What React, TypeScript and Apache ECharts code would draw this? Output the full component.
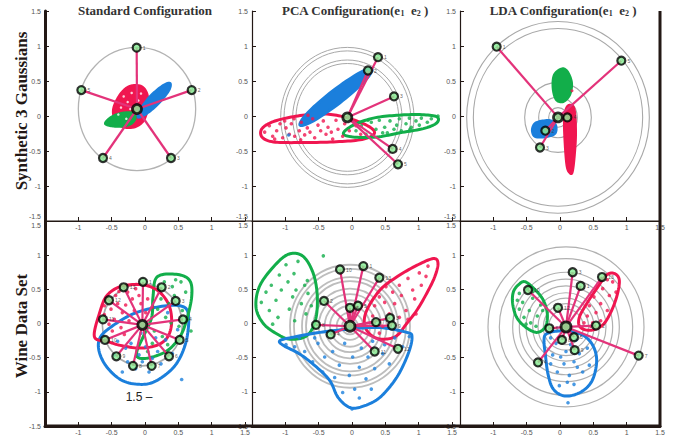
import React, { useEffect, useRef } from "react";
import * as echarts from "echarts";

type Pt = [number, number];
type Vtx = [number, number, string];

// ---------------- titles ----------------
const COL_TITLES = ["Standard Configuration", "PCA Configuration", "LDA Configuration"];
const ROW_TITLES = ["Synthetic 3 Gaussians", "Wine Data Set"];
const STRAY_TEXT = "1.5 \u2013";

// ---------------- Panel 1: Synthetic / Standard ----------------
const s1Center: Pt = [-0.12, 0.1];
const s1Rings = [0.88];
const s1Vertices: Vtx[] = [
  [-0.125, 0.976, "1"], [0.7, 0.37, "2"], [0.39, -0.6, "3"], [-0.63, -0.6, "4"], [-0.955, 0.37, "5"],
];
const s1Red: Pt[] = [
  [-0.18, 0.44], [-0.04, 0.42], [0.04, 0.3], [0.04, 0.1], [-0.02, -0.07], [-0.15, -0.16],
  [-0.33, -0.16], [-0.45, -0.06], [-0.48, 0.09], [-0.41, 0.26], [-0.3, 0.39],
];
const s1RedHoles: Pt[] = [
  [-0.32, 0.28], [-0.2, 0.33], [-0.36, 0.12], [-0.22, 0.1], [-0.1, 0.22], [-0.4, 0.02],
  [-0.12, 0.05], [-0.28, -0.04], [-0.06, 0.32], [-0.26, 0.2],
];
const s1Blue: Pt[] = [
  [0.38, 0.47], [0.27, 0.44], [0.08, 0.29], [-0.07, 0.1], [-0.11, -0.02], [0.01, 0.02],
  [0.2, 0.17], [0.36, 0.36],
];
const s1Green: Pt[] = [
  [-0.6, -0.11], [-0.52, -0.02], [-0.37, 0.04], [-0.2, 0.05], [-0.14, -0.02], [-0.2, -0.11],
  [-0.33, -0.15], [-0.48, -0.15],
];

// ---------------- Panel 2: Synthetic / PCA ----------------
const s2Center: Pt = [-0.07, -0.02];
const s2Rings = [1.0, 0.95, 0.82, 0.77];
const s2Vertices: Vtx[] = [
  [0.39, 0.84, "1"], [0.24, 0.65, "2"], [0.63, 0.28, "3"], [0.61, -0.47, "4"], [0.69, -0.69, "5"],
];
const s2Red: Pt[] = [
  [-1.35, -0.18], [-1.18, -0.08], [-0.88, -0.01], [-0.53, 0.03], [-0.23, 0.01], [0.07, -0.07],
  [0.3, -0.18], [0.32, -0.27], [0.12, -0.34], [-0.28, -0.37], [-0.78, -0.38], [-1.18, -0.37],
  [-1.35, -0.3],
];
const s2RedPts: Pt[] = [
  [-1.31, -0.23], [-1.24, -0.14], [-1.19, -0.29], [-1.13, -0.21], [-1.08, -0.11], [-1.04, -0.31],
  [-0.99, -0.17], [-0.94, -0.26], [-0.91, -0.11], [-0.86, -0.29], [-0.79, -0.21], [-0.76, -0.09],
  [-0.71, -0.27], [-0.67, -0.17], [-0.63, -0.23], [-0.59, -0.04], [-0.56, -0.31], [-0.51, -0.13],
  [-0.47, -0.21], [-0.43, -0.07], [-0.39, -0.26], [-0.36, -0.16], [-0.31, -0.23], [-0.24, -0.06],
  [-0.21, -0.19], [-0.14, -0.29], [-0.11, -0.11], [-0.04, -0.21], [0.06, -0.14], [0.13, -0.26],
  [-0.87, -0.04], [-0.66, 0.01], [-1.01, -0.07], [-0.29, -0.33], [-0.77, -0.34], [-1.16, -0.33],
];
const s2BlueStray: Pt[] = [[-0.95, -0.27]];
const s2Blue: Pt[] = [
  [0.3, 0.67], [0.1, 0.61], [-0.3, 0.35], [-0.66, 0.05], [-0.78, -0.13], [-0.58, -0.07],
  [-0.18, 0.19], [0.18, 0.49],
];
const s2Green: Pt[] = [
  [-0.13, -0.25], [0.02, -0.13], [0.32, -0.03], [0.67, 0.01], [1.02, 0.02], [1.27, -0.01],
  [1.27, -0.1], [1.07, -0.18], [0.72, -0.24], [0.37, -0.3], [0.02, -0.3],
];
const s2GreenPts: Pt[] = [
  [0.06, -0.21], [0.14, -0.14], [0.21, -0.26], [0.29, -0.09], [0.36, -0.19], [0.41, -0.06],
  [0.49, -0.16], [0.53, -0.24], [0.57, -0.07], [0.63, -0.19], [0.71, -0.04], [0.74, -0.21],
  [0.81, -0.11], [0.86, -0.03], [0.89, -0.16], [0.96, -0.07], [1.01, -0.13], [1.04, -0.03],
  [1.13, -0.09], [1.19, -0.04], [0.24, -0.06], [0.67, -0.13], [0.87, -0.19], [0.46, -0.24], [1.29, 0.0],
];

// ---------------- Panel 3: Synthetic / LDA ----------------
const s3Center: Pt = [-0.03, -0.02];
const s3Rings = [1.37, 1.27, 0.5, 0.29, 0.14];
const s3Vertices: Vtx[] = [
  [-0.95, 0.99, "1"], [0.92, 0.79, "5"], [0.11, -0.02, "4"], [-0.22, -0.21, "2"], [-0.3, -0.45, "3"],
];
const s3Green: Pt[] = [
  [0.03, 0.68], [0.12, 0.63], [0.18, 0.47], [0.15, 0.3], [0.05, 0.2], [-0.06, 0.23],
  [-0.11, 0.4], [-0.09, 0.59],
];
const s3Red: Pt[] = [
  [0.15, 0.16], [0.22, 0.09], [0.24, -0.25], [0.22, -0.58], [0.19, -0.8], [0.15, -0.82],
  [0.1, -0.72], [0.07, -0.39], [0.06, -0.06], [0.09, 0.11],
];
const s3RedStray: Pt[] = [[0.18, 0.36]];
const s3Blue: Pt[] = [
  [-0.33, -0.08], [-0.15, -0.06], [-0.06, -0.13], [-0.07, -0.25], [-0.2, -0.3], [-0.37, -0.3],
  [-0.42, -0.22], [-0.4, -0.13],
];

// ---------------- Panel 4: Wine / Standard ----------------
const w1Center: Pt = [-0.04, -0.02];
const w1Rings = [0.6];
const w1Vertices: Vtx[] = [
  [-0.03, 0.61, "1"], [0.25, 0.53, "2"], [0.46, 0.33, "3"], [0.57, 0.06, "4"], [0.52, -0.24, "5"],
  [0.36, -0.48, "6"], [0.1, -0.62, "7"], [-0.18, -0.62, "8"], [-0.43, -0.48, "9"],
  [-0.6, -0.24, "10"], [-0.63, 0.06, "11"], [-0.54, 0.34, "12"], [-0.32, 0.53, "13"],
];
const w1Red: Pt[] = [
  [-0.76, -0.19], [-0.67, 0.19], [-0.57, 0.41], [-0.37, 0.54], [-0.07, 0.57], [0.18, 0.49],
  [0.35, 0.29], [0.4, 0.04], [0.35, -0.18], [0.2, -0.31], [-0.07, -0.36], [-0.37, -0.32],
  [-0.57, -0.26],
];
const w1RedPts: Pt[] = [
  [-0.56, 0.36], [-0.44, 0.41], [-0.41, 0.29], [-0.51, 0.21], [-0.61, 0.26], [-0.34, 0.16],
  [-0.29, 0.27], [-0.26, 0.46], [-0.19, 0.36], [-0.16, 0.19], [-0.09, 0.41], [-0.06, 0.29],
  [0.01, 0.16], [0.04, 0.36], [-0.46, 0.06], [-0.54, -0.01], [-0.36, -0.06], [-0.24, 0.04],
  [-0.61, 0.13], [-0.39, 0.47], [0.11, 0.24], [-0.14, 0.51], [-0.31, -0.16], [-0.49, -0.11],
];
const w1Green: Pt[] = [
  [0.18, 0.68], [0.47, 0.72], [0.67, 0.63], [0.7, 0.39], [0.62, 0.04], [0.52, -0.2],
  [0.33, -0.4], [0.07, -0.5], [-0.1, -0.5], [-0.12, -0.4], [-0.03, -0.2], [0.1, 0.09], [0.12, 0.39],
];
const w1GreenPts: Pt[] = [
  [0.21, 0.51], [0.29, 0.61], [0.41, 0.54], [0.24, 0.36], [0.36, 0.29], [0.44, 0.41], [0.56, 0.19],
  [0.61, 0.46], [0.19, 0.21], [0.31, 0.09], [0.39, 0.01], [0.51, -0.04], [0.14, -0.11], [0.26, -0.19],
  [0.34, -0.31], [0.11, -0.29], [0.04, -0.41], [0.64, 0.06], [0.69, -0.11], [0.54, 0.61], [0.46, 0.64],
];
const w1Blue: Pt[] = [
  [-0.67, -0.2], [-0.48, -0.03], [-0.18, 0.14], [0.18, 0.24], [0.52, 0.26], [0.65, 0.14],
  [0.62, -0.25], [0.47, -0.59], [0.22, -0.81], [-0.02, -0.89], [-0.33, -0.84], [-0.57, -0.64],
  [-0.69, -0.4],
];
const w1BluePts: Pt[] = [
  [-0.41, -0.26], [-0.29, -0.36], [-0.21, -0.29], [-0.09, -0.46], [0.01, -0.34], [0.11, -0.51],
  [0.19, -0.41], [0.31, -0.24], [-0.26, -0.56], [-0.14, -0.66], [0.06, -0.71], [0.24, -0.59],
  [0.41, -0.44], [-0.46, -0.46], [-0.34, -0.71], [0.16, -0.21], [-0.06, -0.14], [0.34, 0.16],
  [0.49, -0.09], [0.55, -0.82], [-0.04, -0.56],
];

// ---------------- Panel 5: Wine / PCA ----------------
const w2Center: Pt = [-0.03, -0.04];
const w2Rings = [0.9, 0.84, 0.72, 0.66, 0.55, 0.47, 0.38, 0.3, 0.2, 0.12];
const w2Vertices: Vtx[] = [
  [0.17, 0.84, "1"], [-0.18, 0.79, "10"], [0.41, 0.67, "13"], [-0.42, 0.33, "2"],
  [-0.03, 0.23, "6"], [0.09, 0.26, "5"], [-0.54, -0.02, "8"], [-0.32, -0.16, "4"],
  [0.36, 0.02, "7"], [0.57, 0.08, "3"], [0.6, -0.03, "9"], [0.34, -0.41, "11"], [0.69, -0.37, "12"],
];
const w2Green: Pt[] = [
  [-1.38, 0.56], [-1.13, 0.88], [-0.93, 1.02], [-0.73, 0.98], [-0.58, 0.73], [-0.52, 0.39],
  [-0.55, 0.04], [-0.68, -0.18], [-0.93, -0.23], [-1.13, -0.15], [-1.33, 0.0], [-1.44, 0.24],
];
const w2GreenPts: Pt[] = [
  [-1.36, 0.31], [-1.29, 0.46], [-1.24, 0.19], [-1.21, 0.56], [-1.14, 0.34], [-1.09, 0.71],
  [-1.06, 0.49], [-0.99, 0.86], [-0.96, 0.61], [-0.89, 0.39], [-0.87, 0.73], [-0.84, 0.49],
  [-0.81, 0.91], [-0.76, 0.29], [-0.71, 0.56], [-0.69, 0.14], [-0.66, 0.44], [-0.61, 0.26],
  [-0.94, 0.21], [-1.11, 0.09], [-0.86, 0.04], [-1.19, -0.01], [-0.43, 0.99], [-0.67, 0.63],
];
const w2Red: Pt[] = [
  [0.22, 0.19], [0.42, 0.49], [0.67, 0.68], [0.97, 0.85], [1.22, 0.95], [1.29, 0.88],
  [1.24, 0.68], [1.12, 0.44], [0.97, 0.19], [0.82, 0.0], [0.67, -0.18], [0.47, -0.23],
  [0.3, -0.18], [0.19, -0.03],
];
const w2RedPts: Pt[] = [
  [0.31, 0.11], [0.34, 0.26], [0.41, 0.39], [0.49, 0.31], [0.56, 0.14], [0.61, 0.46], [0.64, 0.29],
  [0.71, 0.56], [0.74, 0.41], [0.81, 0.19], [0.84, 0.66], [0.91, 0.49], [0.94, 0.36], [1.01, 0.74],
  [1.04, 0.56], [1.11, 0.69], [0.46, -0.04], [0.59, 0.01], [0.71, 0.09], [0.84, 0.06], [0.51, 0.54],
  [0.96, 0.14], [1.14, 0.84], [0.41, -0.14],
];
const w2Blue: Pt[] = [
  [-1.08, -0.25], [-0.88, -0.2], [-0.48, -0.13], [-0.03, -0.08], [0.42, -0.06], [0.82, -0.13],
  [0.9, -0.2], [0.84, -0.45], [0.67, -0.79], [0.42, -1.08], [0.17, -1.21], [-0.03, -1.23],
  [-0.21, -1.08], [-0.33, -0.84], [-0.53, -0.64], [-0.78, -0.45], [-1.03, -0.32],
];
const w2BluePts: Pt[] = [
  [-0.99, -0.31], [-0.86, -0.34], [-0.71, -0.41], [-0.59, -0.56], [-0.51, -0.29], [-0.44, -0.71],
  [-0.41, -0.49], [-0.29, -0.41], [-0.26, -0.79], [-0.19, -0.61], [-0.11, -0.29], [-0.04, -0.76],
  [0.01, -0.49], [0.04, -0.96], [0.11, -0.64], [0.14, -0.36], [0.21, -0.81], [0.24, -0.49],
  [0.31, -0.26], [0.34, -0.66], [0.46, -0.44], [0.49, -0.31], [0.56, -0.59], [0.64, -0.21],
  [0.76, -0.34], [-0.14, -1.01], [0.11, -1.09], [0.29, -0.96], [-0.56, -0.21], [-0.31, -0.14],
  [0.0, -1.25], [0.86, -0.19], [-0.79, -0.21],
];

// ---------------- Panel 6: Wine / LDA ----------------
const w3Center: Pt = [0.09, -0.05];
const w3Rings = [1.17, 1.0, 0.8, 0.7, 0.6, 0.5, 0.42, 0.34, 0.26];
const w3Vertices: Vtx[] = [
  [0.19, 0.75, "3"], [0.31, 0.55, "1"], [0.63, 0.68, "13"], [-0.48, 0.49, "10"],
  [-0.03, 0.23, "12"], [-0.16, -0.07, "6"], [0.54, -0.03, "2"], [0.03, -0.24, "8"],
  [0.21, -0.2, "5"], [0.22, -0.39, "9"], [-0.33, -0.57, "4"], [1.18, -0.47, "7"],
];
const w3Green: Pt[] = [
  [-0.62, 0.57], [-0.52, 0.61], [-0.37, 0.49], [-0.25, 0.34], [-0.19, 0.14], [-0.22, -0.05],
  [-0.35, -0.13], [-0.52, -0.05], [-0.65, 0.09], [-0.71, 0.29], [-0.7, 0.46],
];
const w3GreenPts: Pt[] = [
  [-0.61, 0.44], [-0.56, 0.31], [-0.49, 0.51], [-0.46, 0.19], [-0.41, 0.37], [-0.34, 0.11],
  [-0.29, 0.27], [-0.54, 0.09], [-0.61, 0.21], [-0.44, 0.01], [-0.36, -0.04], [-0.26, 0.19],
  [-0.64, 0.34], [-0.51, -0.01], [-0.41, 0.47],
];
const w3Red: Pt[] = [
  [0.7, 0.71], [0.82, 0.73], [0.89, 0.63], [0.85, 0.39], [0.75, 0.14], [0.63, -0.03],
  [0.45, -0.1], [0.3, -0.05], [0.29, 0.09], [0.4, 0.29], [0.55, 0.51],
];
const w3RedPts: Pt[] = [
  [0.41, 0.11], [0.44, 0.26], [0.51, 0.39], [0.54, 0.16], [0.61, 0.29], [0.64, 0.51], [0.71, 0.19],
  [0.74, 0.41], [0.79, 0.61], [0.49, 0.01], [0.61, 0.04], [0.36, 0.01], [0.71, 0.64], [0.56, 0.54],
  [0.84, 0.46], [0.46, -0.04],
];
const w3Blue: Pt[] = [
  [-0.2, -0.15], [0.0, -0.11], [0.3, -0.15], [0.48, -0.3], [0.55, -0.54], [0.48, -0.84],
  [0.3, -1.01], [0.07, -1.06], [-0.1, -0.96], [-0.18, -0.74], [-0.22, -0.45], [-0.24, -0.25],
];
const w3BluePts: Pt[] = [
  [-0.14, -0.21], [-0.06, -0.29], [0.04, -0.21], [0.16, -0.31], [0.24, -0.24], [-0.11, -0.46],
  [0.01, -0.49], [0.09, -0.41], [0.21, -0.56], [0.29, -0.44], [0.41, -0.36], [-0.04, -0.71],
  [0.06, -0.59], [0.14, -0.76], [0.26, -0.64], [0.34, -0.71], [0.11, -0.86], [-0.01, -0.91],
  [0.21, -0.89], [0.44, -0.61], [-0.14, -0.59], [0.12, -1.16],
];

// ---------------- styling ----------------
const RED = "#f01650";
const BLUE = "#1b7fdc";
const GREEN = "#12ae4a";
const SPOKE = "#e3337a";
const MARKER = "#86ee92";
const AXIS = "#231815";
const LABEL = "#555555";

interface Cluster { contour: Pt[]; color: string; fill?: boolean; width?: number; points?: Pt[]; }
interface Panel {
  center: Pt; rings: number[]; ringColor: string; ringWidth: number; vertices: Vtx[];
  clusters: Cluster[]; extras?: { pts: Pt[]; color: string; size: number }[]; centerSize: number;
}

const PANELS: Panel[] = [
  {
    center: s1Center, rings: s1Rings, ringColor: "#b3b3b3", ringWidth: 1.3, vertices: s1Vertices, centerSize: 9,
    clusters: [
      { contour: s1Red, color: RED, fill: true, width: 2 },
      { contour: s1Blue, color: BLUE, fill: true, width: 2 },
      { contour: s1Green, color: GREEN, fill: true, width: 2 },
    ],
    extras: [{ pts: s1RedHoles, color: "#ffffff", size: 2.5 }],
  },
  {
    center: s2Center, rings: s2Rings, ringColor: "#a8a8a8", ringWidth: 1, vertices: s2Vertices, centerSize: 9,
    clusters: [
      { contour: s2Red, color: RED, width: 3, points: s2RedPts },
      { contour: s2Blue, color: BLUE, fill: true, width: 3 },
      { contour: s2Green, color: GREEN, width: 3, points: s2GreenPts },
    ],
    extras: [{ pts: s2BlueStray, color: BLUE, size: 3.5 }],
  },
  {
    center: s3Center, rings: s3Rings, ringColor: "#a8a8a8", ringWidth: 1.1, vertices: s3Vertices, centerSize: 9,
    clusters: [
      { contour: s3Green, color: GREEN, fill: true, width: 2 },
      { contour: s3Red, color: RED, fill: true, width: 2 },
      { contour: s3Blue, color: BLUE, fill: true, width: 2 },
    ],
    extras: [{ pts: s3RedStray, color: RED, size: 3 }],
  },
  {
    center: w1Center, rings: w1Rings, ringColor: "#aaaaaa", ringWidth: 1.6, vertices: w1Vertices, centerSize: 9,
    clusters: [
      { contour: w1Blue, color: BLUE, width: 3, points: w1BluePts },
      { contour: w1Green, color: GREEN, width: 3, points: w1GreenPts },
      { contour: w1Red, color: RED, width: 3, points: w1RedPts },
    ],
  },
  {
    center: w2Center, rings: w2Rings, ringColor: "#bdbdbd", ringWidth: 1.8, vertices: w2Vertices, centerSize: 10,
    clusters: [
      { contour: w2Green, color: GREEN, width: 3, points: w2GreenPts },
      { contour: w2Red, color: RED, width: 3, points: w2RedPts },
      { contour: w2Blue, color: BLUE, width: 3, points: w2BluePts },
    ],
  },
  {
    center: w3Center, rings: w3Rings, ringColor: "#b0b0b0", ringWidth: 1.2, vertices: w3Vertices, centerSize: 10,
    clusters: [
      { contour: w3Green, color: GREEN, width: 3, points: w3GreenPts },
      { contour: w3Red, color: RED, width: 3, points: w3RedPts },
      { contour: w3Blue, color: BLUE, width: 3, points: w3BluePts },
    ],
  },
];

const GRIDS = [
  { left: 45, top: 11, width: 200, height: 210 },
  { left: 252, top: 11, width: 200, height: 210 },
  { left: 460, top: 11, width: 200, height: 210 },
  { left: 45, top: 221, width: 200, height: 205 },
  { left: 252, top: 221, width: 200, height: 205 },
  { left: 460, top: 221, width: 200, height: 205 },
];

// closed Catmull-Rom curve through pixel points (rendering only)
function closedCurve(pts: number[][], steps = 10): number[][] {
  const n = pts.length;
  const out: number[][] = [];
  for (let i = 0; i < n; i++) {
    const p0 = pts[(i - 1 + n) % n], p1 = pts[i], p2 = pts[(i + 1) % n], p3 = pts[(i + 2) % n];
    for (let s = 0; s < steps; s++) {
      const t = s / steps, t2 = t * t, t3 = t2 * t;
      out.push([0, 1].map((k) =>
        0.5 * (2 * p1[k] + (-p0[k] + p2[k]) * t + (2 * p0[k] - 5 * p1[k] + 4 * p2[k] - p3[k]) * t2 +
          (-p0[k] + 3 * p1[k] - 3 * p2[k] + p3[k]) * t3)));
    }
  }
  return out;
}

function buildOption() {
  const xAxis: any[] = [];
  const yAxis: any[] = [];
  const series: any[] = [];
  GRIDS.forEach((_g, i) => {
    const bottomRow = i >= 3;
    const col = i % 3;
    xAxis.push({
      type: "value", gridIndex: i, min: -1.5, max: 1.5, interval: 0.5,
      axisLine: { show: true, onZero: false, lineStyle: { color: AXIS, width: bottomRow ? 3 : 1.2 } },
      axisTick: { show: true, inside: true, length: 4, lineStyle: { color: AXIS, width: 1 } },
      axisLabel: {
        show: true, fontSize: 7, color: LABEL, margin: 3, fontFamily: "Liberation Sans",
        formatter: (v: number) => (v === -1.5 || (!bottomRow && col < 2 && v === 1.5) ? "" : String(v)),
      },
      splitLine: { show: false },
    });
    yAxis.push({
      type: "value", gridIndex: i, min: -1.5, max: 1.5, interval: 0.5,
      axisLine: { show: true, onZero: false, lineStyle: { color: AXIS, width: col === 0 ? 3 : 1.2 } },
      axisTick: { show: true, inside: true, length: 4, lineStyle: { color: AXIS, width: 1 } },
      axisLabel: {
        show: true, fontSize: 7, color: LABEL, margin: 4, fontFamily: "Liberation Sans",
        formatter: (v: number) => {
          if (!bottomRow && v === -1.5) return "{lo|-1.5}";
          if (bottomRow && v === 1.5) return "{hi|1.5}";
          return String(v);
        },
        rich: {
          lo: { fontSize: 7, color: LABEL, fontFamily: "Liberation Sans", padding: [0, 0, 10, 0] },
          hi: { fontSize: 7, color: LABEL, fontFamily: "Liberation Sans", padding: [8, 0, 0, 0] },
        },
      },
      splitLine: { show: false },
    });
  });

  PANELS.forEach((p, i) => {
    const ax = { xAxisIndex: i, yAxisIndex: i };
    // rings
    series.push({
      type: "custom", ...ax, z: 1, silent: true,
      data: p.rings.map((r) => [p.center[0], p.center[1], r]),
      renderItem: (_params: any, api: any) => {
        const c = api.coord([api.value(0), api.value(1)]);
        const s = api.size([api.value(2), api.value(2)]);
        return {
          type: "ellipse",
          shape: { cx: c[0], cy: c[1], rx: s[0], ry: s[1] },
          style: { fill: "none", stroke: p.ringColor, lineWidth: p.ringWidth },
        };
      },
    });
    // clusters
    p.clusters.forEach((cl) => {
      series.push({
        type: "custom", ...ax, z: 2, silent: true,
        data: cl.contour,
        renderItem: (params: any, api: any) => {
          if (params.dataIndex !== 0) return { type: "group", children: [] };
          const pts = closedCurve(cl.contour.map((q) => api.coord(q)));
          return {
            type: "polygon",
            shape: { points: pts },
            style: {
              fill: cl.fill ? cl.color : "none",
              stroke: cl.color, lineWidth: cl.width ?? 2, lineJoin: "round",
            },
          };
        },
      });
      if (cl.points) {
        series.push({
          type: "scatter", ...ax, z: 3, silent: true, symbolSize: 3.6,
          itemStyle: { color: cl.color }, data: cl.points,
        });
      }
    });
    (p.extras || []).forEach((e) => {
      series.push({
        type: "scatter", ...ax, z: 3, silent: true, symbolSize: e.size,
        itemStyle: { color: e.color }, data: e.pts,
      });
    });
    // spokes
    series.push({
      type: "lines", coordinateSystem: "cartesian2d", ...ax, z: 4, silent: true,
      lineStyle: { color: SPOKE, width: 2.2, opacity: 1 },
      data: p.vertices.map((v) => ({ coords: [p.center, [v[0], v[1]]] })),
    });
    // markers
    series.push({
      type: "scatter", ...ax, z: 5, silent: true, symbol: "circle", symbolSize: 8,
      itemStyle: { color: MARKER, borderColor: "#000", borderWidth: 2.2 },
      label: { show: true, position: "right", distance: 1, fontSize: 5, color: "#333", formatter: "{b}" },
      data: p.vertices.map((v) => ({ name: v[2], value: [v[0], v[1]] })),
    });
    series.push({
      type: "scatter", ...ax, z: 6, silent: true, symbol: "circle", symbolSize: p.centerSize,
      itemStyle: { color: MARKER, borderColor: "#000", borderWidth: 2.8 },
      data: [p.center],
    });
  });

  const titleFont = { fontFamily: "Liberation Serif", fontWeight: "bold", fill: "#333" };
  const subTitle = (main: string) => `{t|${main}(e}{s|1}{t|  e}{s|2}{t| )}`;
  const rich = {
    t: { fontSize: 13, fontFamily: "Liberation Serif", fontWeight: "bold", fill: "#333", lineHeight: 15 },
    s: { fontSize: 8, fontFamily: "Liberation Serif", fontWeight: "bold", fill: "#333", lineHeight: 15, verticalAlign: "bottom", padding: [6, 0, 0, 0] },
  };

  const graphic: any[] = [
    { type: "text", x: 145, y: 10, style: { text: COL_TITLES[0], fontSize: 13, ...titleFont, align: "center", verticalAlign: "middle" } },
    { type: "text", x: 355, y: 10, style: { text: subTitle(COL_TITLES[1]), rich, align: "center", verticalAlign: "middle" } },
    { type: "text", x: 563, y: 10, style: { text: subTitle(COL_TITLES[2]), rich, align: "center", verticalAlign: "middle" } },
    { type: "text", x: 21, y: 111, rotation: Math.PI / 2, style: { text: ROW_TITLES[0], fontSize: 17, fontFamily: "Liberation Serif", fontWeight: "bold", fill: AXIS, align: "center", verticalAlign: "middle" } },
    { type: "text", x: 21, y: 326, rotation: Math.PI / 2, style: { text: ROW_TITLES[1], fontSize: 17, fontFamily: "Liberation Serif", fontWeight: "bold", fill: AXIS, align: "center", verticalAlign: "middle" } },
    { type: "text", x: 139, y: 397, style: { text: STRAY_TEXT, fontSize: 12, fontFamily: "Liberation Sans", fill: "#222", align: "center", verticalAlign: "middle" } },
    { type: "line", shape: { x1: 44, y1: 221, x2: 660, y2: 221 }, style: { stroke: AXIS, lineWidth: 1.2 }, z: 10 },
    { type: "line", shape: { x1: 44, y1: 426, x2: 661, y2: 426 }, style: { stroke: AXIS, lineWidth: 3 }, z: 10 },
    { type: "line", shape: { x1: 660, y1: 11, x2: 660, y2: 427 }, style: { stroke: AXIS, lineWidth: 3 }, z: 10 },
  ];

  return {
    animation: false,
    backgroundColor: "#ffffff",
    grid: GRIDS.map((g) => ({ ...g, containLabel: false })),
    xAxis, yAxis, series, graphic,
  };
}

export default function App() {
  const ref = useRef<HTMLDivElement>(null);
  useEffect(() => {
    if (!ref.current) return;
    const chart = echarts.init(ref.current, undefined, { renderer: "svg" });
    chart.setOption(buildOption() as any);
    return () => chart.dispose();
  }, []);
  return <div ref={ref} style={{ width: 673, height: 436, position: "absolute", left: 0, top: 0 }} />;
}
